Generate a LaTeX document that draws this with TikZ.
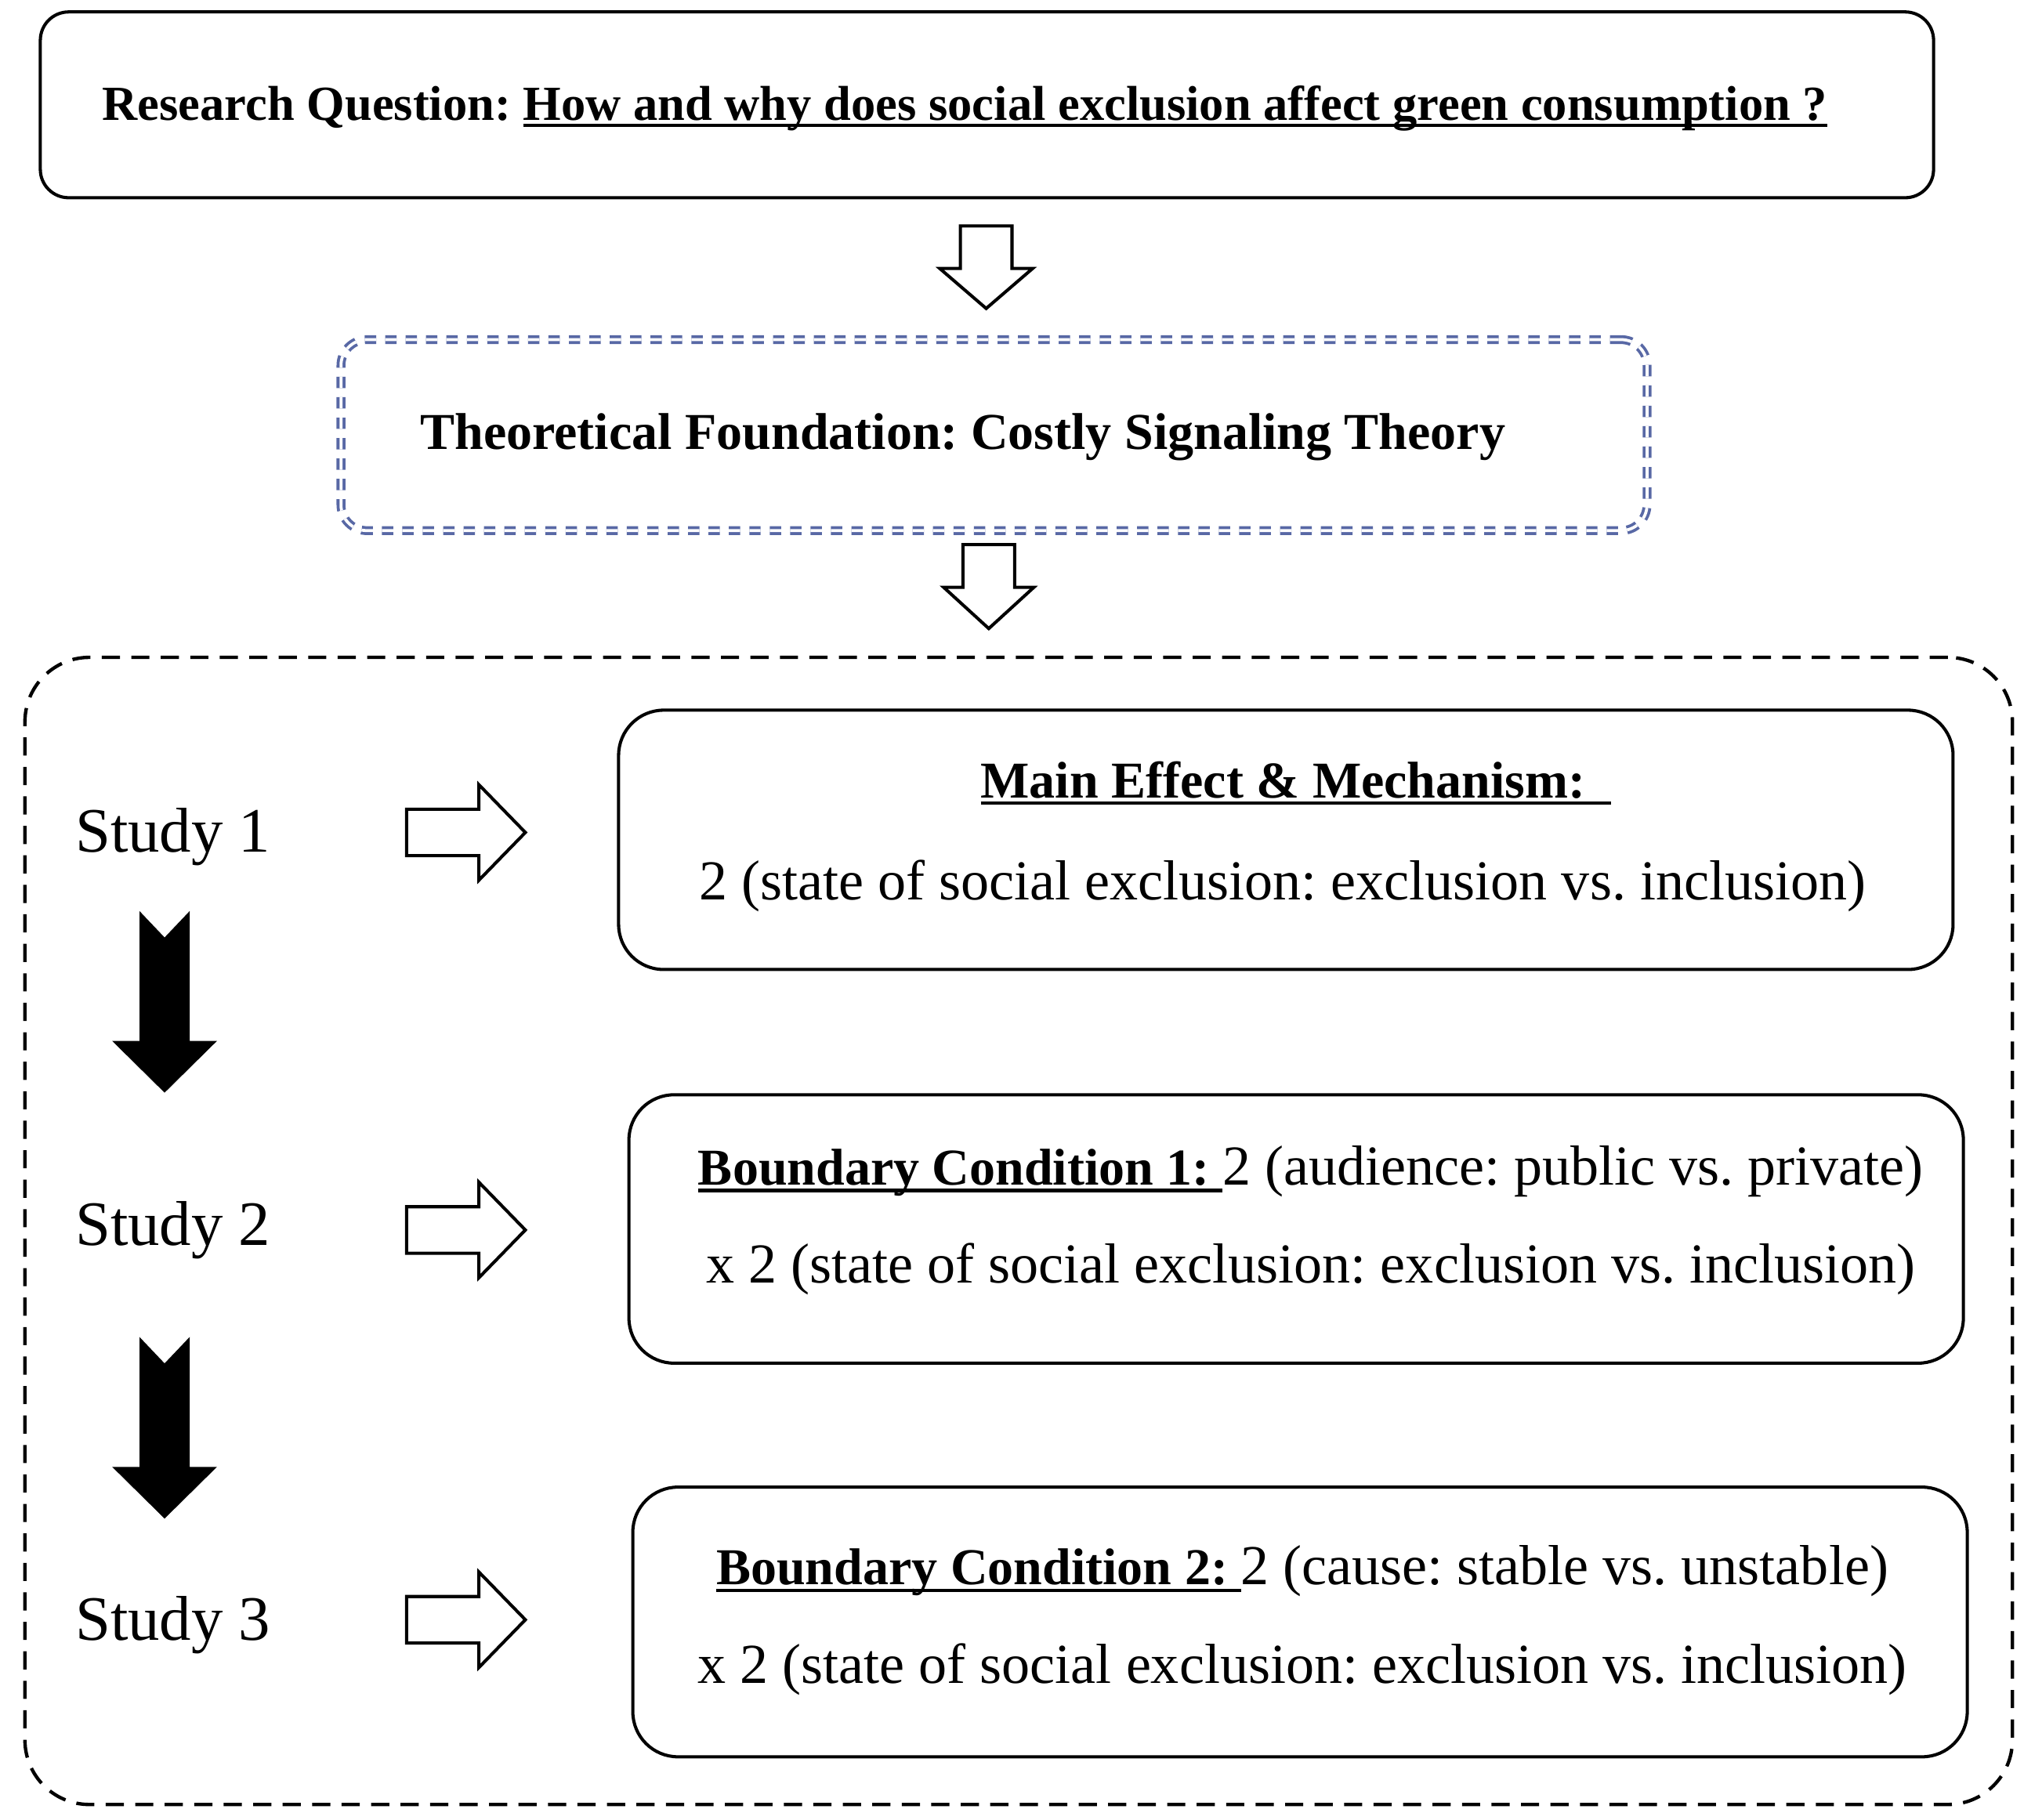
\documentclass[tikz,border=0pt]{standalone}
\usepackage{fontspec}
\setmainfont{Liberation Serif}
\newsavebox{\myulbox}
\newcommand{\myul}[1]{\savebox{\myulbox}{#1}\rlap{\rule[-3.2pt]{\wd\myulbox}{1.6pt}}\usebox{\myulbox}}
\definecolor{tfblue}{RGB}{88,104,165}
\frenchspacing
\begin{document}
\begin{tikzpicture}[x=0.02cm,y=-0.02cm,
  box/.style={draw, line width=1.4pt, inner sep=0pt, anchor=north west},
  regtext/.style={font=\fontsize{24.9}{30}\selectfont, inner sep=0pt, anchor=base},
  boldtext/.style={font=\fontsize{22.8}{28}\selectfont\bfseries, inner sep=0pt, anchor=base},
  studytext/.style={font=\fontsize{27.9}{32}\selectfont, inner sep=0pt, anchor=base},
  openarrow/.style={draw, line width=1.4pt, fill=white, line join=miter},
  solidarrow/.style={fill=black, draw=black, line width=0.5pt, line join=miter}]
\useasboundingbox (0,0) rectangle (1568,1410);
% boxes
\node[box, rounded corners=0.44cm, minimum width=29.34cm, minimum height=2.88cm] (rq) at (30,8) {};
\node[box, draw=tfblue, double=white, double distance=1.3pt, line width=1.3pt,
      dash pattern=on 5pt off 4pt, rounded corners=0.4cm,
      minimum width=20.24cm, minimum height=2.96cm] (tf) at (263,262) {};
\node[box, dash pattern=on 8pt off 5pt, line width=1.5pt, rounded corners=1cm,
      minimum width=30.8cm, minimum height=17.78cm] (outer) at (18,508) {};
\node[box, rounded corners=0.7cm, minimum width=20.68cm, minimum height=4.02cm] (b1) at (478,549) {};
\node[box, rounded corners=0.7cm, minimum width=20.68cm, minimum height=4.16cm] (b2) at (486,847) {};
\node[box, rounded corners=0.7cm, minimum width=20.68cm, minimum height=4.18cm] (b3) at (489,1151) {};
% texts
\node[boldtext, font=\fontsize{21.6}{26}\selectfont\bfseries] (rqt) at (747.5,93)
  {Research Question: \myul{How and why does social exclusion affect green consumption ?}};
\node[boldtext] (tft) at (746,348) {Theoretical Foundation: Costly Signaling Theory};
\node[studytext] (s1) at (134,660) {Study 1};
\node[studytext] (s2) at (134,965) {Study 2};
\node[studytext] (s3) at (134,1271) {Study 3};
\node[boldtext] (b1a) at (1004,618) {\myul{Main Effect \& Mechanism:\ \ }};
\node[regtext] (b1b) at (993.5,697) {2 (state of social exclusion: exclusion vs. inclusion)};
\node[regtext] (b2a) at (1015.5,918) {{\bfseries\fontsize{22.8}{28}\selectfont\myul{Boundary Condition 1:\ }}2 (audience: public vs. private)};
\node[regtext] (b2b) at (1015.5,994) {x 2 (state of social exclusion: exclusion vs. inclusion)};
\node[regtext] (b3a) at (1009,1228) {{\bfseries\fontsize{22.8}{28}\selectfont\myul{Boundary Condition 2:\ }}2 (cause: stable vs. unstable)};
\node[regtext] (b3b) at (1009,1304) {x 2 (state of social exclusion: exclusion vs. inclusion)};
% open down arrows
\draw[openarrow] (744,175) -- (784,175) -- (784,208) -- (800,208) -- (764,239) -- (728,208) -- (744,208) -- cycle;
\draw[openarrow] (746,422) -- (786,422) -- (786,455) -- (801,455) -- (766,487) -- (731,455) -- (746,455) -- cycle;
% open right arrows
\foreach \c in {645,953,1255}{
  \draw[openarrow] (315,\c-18) -- (371,\c-18) -- (371,\c-37) -- (407,\c) -- (371,\c+37) -- (371,\c+18) -- (315,\c+18) -- cycle;
}
% solid down arrows
\foreach \t in {707,1037}{
  \fill[solidarrow] (108.5,\t) -- (127.5,\t+20) -- (146.5,\t) -- (146.5,\t+100) -- (167,\t+100) -- (127.5,\t+139) -- (88,\t+100) -- (108.5,\t+100) -- cycle;
}
\end{tikzpicture}
\end{document}
